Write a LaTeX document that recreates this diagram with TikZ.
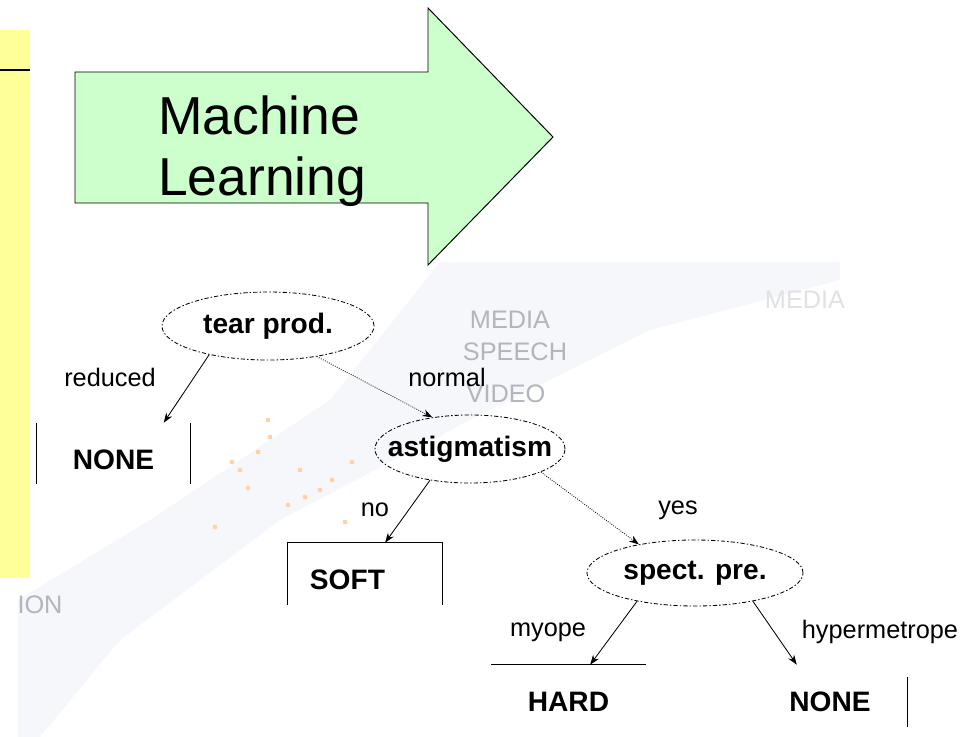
\documentclass[tikz,border=0pt]{standalone}
\usepackage{fontspec}
\setmainfont{Liberation Sans}
\usetikzlibrary{arrows.meta,calc,shapes.geometric}

\definecolor{notepad}{RGB}{255,255,153}
\definecolor{mlgreen}{RGB}{204,255,204}
\definecolor{wmgray}{RGB}{178,181,188}
\definecolor{streak}{RGB}{245,247,250}

\begin{document}
\begin{tikzpicture}[x=0.025cm,y=-0.025cm,
        test/.style={ellipse,draw,line width=0.6pt,dash pattern=on 3pt off 1.5pt on 1pt off 1.5pt,inner sep=0pt,font=\fontsize{20}{24}\selectfont\bfseries},
        leafbox/.style={inner sep=0pt,minimum width=3.85cm,minimum height=1.85cm,font=\fontsize{20}{24}\selectfont\bfseries},
        branch/.style={-{Stealth[length=7pt,width=5pt]},line width=0.6pt},
        dotbranch/.style={branch,densely dotted},
        edgelabel/.style={font=\fontsize{18}{22}\selectfont},
        watermark/.style={text=wmgray,font=\fontsize{18}{22}\selectfont}]

    \useasboundingbox (0,0) rectangle (969,737); % fixes the page size

    % faint background streak behind the tree
    \fill[streak] (440,262) -- (840,262) -- (840,280) -- (650,330) -- (470,420) -- (280,520) -- (120,640) -- (40,737) -- (18,737) -- (18,600) -- (150,520) -- (330,400) -- cycle;
    \foreach \dx/\dy in {270/437,240/470,258/452,300/470,320/490,332/480,305/497,345/522,268/420,232/462,215/527,352/462,288/505,248/488} {
            \fill[orange!35] (\dx,\dy) circle (2.4); % small orange specks
        }
    \node[watermark] (wmedia) at (510,320) {MEDIA};
    \node[watermark] (wspeech) at (515,352) {SPEECH};
    \node[watermark] (wvideo) at (506,394) {VIDEO};
    \node[watermark,text=wmgray!40] (wmediab) at (805,300) {MEDIA};
    \node[watermark] (wion) at (40,605) {ION};

    % yellow note on the left
    \fill[notepad] (0,30) rectangle (30,578);
    \draw[line width=1.4pt] (0,70) -- (30,70);

    % big arrow
    \draw[fill=mlgreen,line width=0.7pt] (75,72) -- (428,72) -- (428,8) -- (553,137) -- (428,265) -- (428,203) -- (75,203) -- cycle;
    \node[anchor=north west,inner sep=0pt,align=left,font=\fontsize{38}{44}\selectfont] (ml) at (158,95) {Machine\\Learning};

    % decision tree
    \node[test,minimum width=5.3cm,minimum height=1.7cm] (tear) at (268,326) {\makebox[0pt]{tear prod.}};
    \node[test,minimum width=4.75cm,minimum height=1.7cm] (astig) at (470,449) {\makebox[0pt]{astigmatism}};
    \node[test,minimum width=5.4cm,minimum height=1.65cm] (spect) at (695,573) {\makebox[0pt]{spect. pre.}};

    \node[leafbox] (noneA) at (113.5,460) {NONE};
    \node[leafbox,text width=2.75cm,inner xsep=0.55cm,align=left] (soft) at (365,580) {SOFT};
    \node[leafbox] (hard) at (568.5,702) {HARD};
    \node[leafbox] (noneB) at (830,702) {NONE};

    % open frames round the leaves
    \draw[line width=0.9pt] (noneA.north west) -- ++(0,61);
    \draw[line width=0.9pt] (noneA.north east) -- ++(0,61);
    \draw[line width=0.9pt] (soft.north west) ++(0,62) -- (soft.north west) -- (soft.north east) -- ++(0,62);
    \draw[line width=0.9pt] (hard.north west) -- (hard.north east);
    \draw[line width=0.9pt] (noneB.north east) ++(0,12) -- ++(0,50);

    \draw[branch] (tear.206) -- ($(noneA.north)!0.65!(noneA.north east)$);
    \draw[dotbranch] (tear.328) -- (astig.140);
    \draw[branch] (astig.218) -- ($(soft.north)!0.26!(soft.north east)$);
    \draw[dotbranch] (astig.342) -- (spect.153);
    \draw[branch] (spect.206) -- ($(hard.north)!0.28!(hard.north east)$);
    \draw[branch] (spect.334) -- ($(noneB.north)!0.43!(noneB.north west)$);

    \node[edgelabel] (lreduced) at (110,377) {reduced};
    \node[edgelabel] (lnormal) at (447,377) {normal};
    \node[edgelabel] (lno) at (375,510) {no};
    \node[edgelabel] (lyes) at (678,510) {yes};
    \node[edgelabel] (lmyope) at (548,632) {myope};
    \node[edgelabel] (lhyper) at (880,632) {hypermetrope};
\end{tikzpicture}
\end{document}
